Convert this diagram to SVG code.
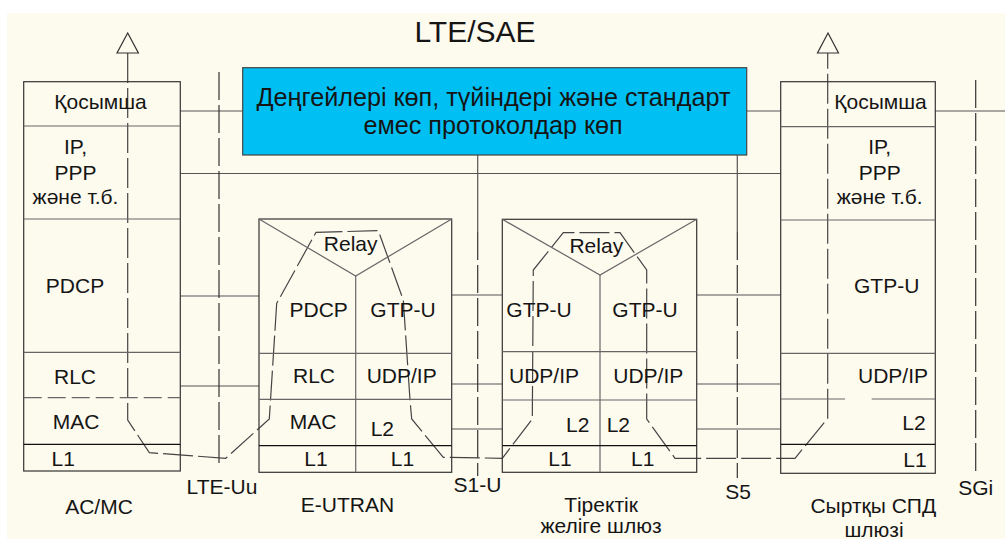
<svg xmlns="http://www.w3.org/2000/svg" width="1005" height="539" viewBox="0 0 1005 539">
<style>
text{font-family:"Liberation Sans",Arial,sans-serif;font-size:21px;fill:#151515}
.c{text-anchor:middle}
.box{fill:none;stroke:#333;stroke-width:1.2}
.row{stroke:#666;stroke-width:1.2;fill:none}
.blk{stroke:#111;stroke-width:1.2;fill:none}
.ln{stroke:#555;stroke-width:1.2;fill:none}
.iface{stroke:#333;stroke-width:1.2;stroke-dasharray:28 5;fill:none}
.path{stroke:#444;stroke-width:1.2;stroke-dasharray:30 5;fill:none}
.arr{fill:#FDFAEE;stroke:#333;stroke-width:1.2}
</style>
<rect x="0" y="0" width="1005" height="539" fill="#fff"/>
<rect x="7" y="13" width="998" height="526" fill="#FDFAEE"/>
<text class="c" x="475" y="42" style="font-size:30px">LTE/SAE</text>

<g id="connectors">
<line class="ln" x1="180" y1="111" x2="243" y2="111"/>
<line class="ln" x1="747" y1="111" x2="781" y2="111"/>
<line class="ln" x1="935" y1="111" x2="1005" y2="111"/>
<line class="ln" x1="180" y1="173.5" x2="781" y2="173.5"/>
<line class="ln" x1="180" y1="296" x2="259" y2="296"/>
<line class="ln" x1="180" y1="386" x2="259" y2="386"/>
<line class="ln" x1="452" y1="295" x2="502" y2="295"/>
<line class="ln" x1="452" y1="384" x2="502" y2="384"/>
<line class="ln" x1="452" y1="429" x2="502" y2="429"/>
<line class="ln" x1="697" y1="295" x2="781" y2="295"/>
<line class="ln" x1="697" y1="384" x2="781" y2="384"/>
<line class="ln" x1="697" y1="429" x2="781" y2="429"/>
<line class="ln" x1="477.7" y1="155" x2="477.7" y2="232"/>
<line class="ln" x1="737.3" y1="155" x2="737.3" y2="232"/>
<line class="iface" x1="219" y1="72" x2="219" y2="467"/>
<line class="iface" x1="477.7" y1="232" x2="477.7" y2="476"/>
<line class="iface" x1="737.3" y1="232" x2="737.3" y2="478"/>
<line class="iface" x1="975.7" y1="80" x2="975.7" y2="472"/>
<polyline class="path" points="127.7,53 127.7,420 149.3,452.7 225.7,458.3 269.3,419 276.7,303.3 316,232.3 378.3,230.7 403.3,300 410,400 411.7,419 443.3,457.3 502.3,458.3 532.3,419 533.3,270 563.3,232.7 620,232.7 646.7,270 646.7,419 675,458.3 795,458.3 827.7,418.3 827.7,53"/>
<polygon class="arr" points="127.7,33 117,53 138.4,53"/>
<polygon class="arr" points="828,33 817.5,53 838.5,53"/>
</g>

<g id="blue">
<rect x="242.7" y="67.7" width="504" height="87.3" fill="#00BFF3" stroke="#444" stroke-width="1.2"/>
<text class="c" x="493.5" y="106" style="font-size:25.2px">Деңгейлері көп, түйіндері және стандарт</text>
<text class="c" x="493" y="133.5" style="font-size:25.2px">емес протоколдар көп</text>
</g>

<g id="ue">
<rect class="box" x="23.7" y="81.7" width="156.6" height="389.3"/>
<line class="row" x1="23.7" y1="126" x2="180.3" y2="126"/>
<line class="row" x1="23.7" y1="219" x2="180.3" y2="219"/>
<line class="row" x1="23.7" y1="352.3" x2="180.3" y2="352.3"/>
<line class="row" x1="23.7" y1="397.7" x2="180.3" y2="397.7" stroke-dasharray="18 6"/>
<line class="blk" x1="23.7" y1="444.3" x2="180.3" y2="444.3"/>
<text class="c" x="100.5" y="109">Қосымша</text>
<text class="c" x="75.5" y="154">IP,</text>
<text class="c" x="75.5" y="180">PPP</text>
<text class="c" x="75.5" y="204">және т.б.</text>
<text class="c" x="75" y="293.3">PDCP</text>
<text class="c" x="75" y="384">RLC</text>
<text class="c" x="76" y="429">MAC</text>
<text x="51.5" y="466">L1</text>
<text class="c" x="99" y="514">AC/MC</text>
<text class="c" x="222" y="494">LTE-Uu</text>
</g>

<g id="enb">
<rect class="box" x="259" y="219" width="192.7" height="253.3"/>
<polyline class="row" points="259,219 355.7,276 451.7,219"/>
<line class="row" x1="355.7" y1="276" x2="355.7" y2="472.3"/>
<line class="row" x1="259" y1="353.3" x2="451.7" y2="353.3"/>
<line class="row" x1="259" y1="399.3" x2="451.7" y2="399.3"/>
<line class="blk" x1="259" y1="445.7" x2="451.7" y2="445.7"/>
<text class="c" x="350.7" y="250.7">Relay</text>
<text class="c" x="318.7" y="317.3">PDCP</text>
<text class="c" x="403" y="317.3">GTP-U</text>
<text class="c" x="314" y="383.3">RLC</text>
<text class="c" x="401.7" y="383.3">UDP/IP</text>
<text class="c" x="313" y="429">MAC</text>
<text x="370.7" y="435.7">L2</text>
<text class="c" x="316" y="465.7">L1</text>
<text class="c" x="402.5" y="465.7">L1</text>
<text class="c" x="477.5" y="492.3">S1-U</text>
<text class="c" x="347.5" y="511.7">E-UTRAN</text>
</g>

<g id="sgw">
<rect class="box" x="502.3" y="219.3" width="194.4" height="253"/>
<polyline class="row" points="502.3,219.3 600,275 696.7,219.3"/>
<line class="row" x1="600" y1="275" x2="600" y2="472.3"/>
<line class="row" x1="502.3" y1="351.7" x2="696.7" y2="351.7"/>
<line class="row" x1="502.3" y1="400" x2="696.7" y2="400"/>
<line class="blk" x1="502.3" y1="445.7" x2="696.7" y2="445.7"/>
<text class="c" x="596.3" y="253.3">Relay</text>
<text class="c" x="539" y="317.3">GTP-U</text>
<text class="c" x="645" y="317.3">GTP-U</text>
<text x="509" y="382.7">UDP/IP</text>
<text class="c" x="648.3" y="382.7">UDP/IP</text>
<text x="566" y="432.3">L2</text>
<text x="606.7" y="432.3">L2</text>
<text class="c" x="560" y="465.7">L1</text>
<text class="c" x="642.7" y="465.7">L1</text>
<text class="c" x="738" y="499">S5</text>
<text class="c" x="601" y="511.7">Тіректік</text>
<text class="c" x="601" y="533.3">желіге шлюз</text>
</g>

<g id="pgw">
<rect class="box" x="780.7" y="81.7" width="154.6" height="391.6"/>
<line class="row" x1="780.7" y1="126.7" x2="935.3" y2="126.7"/>
<line class="row" x1="780.7" y1="220" x2="935.3" y2="220"/>
<line class="row" x1="780.7" y1="353.3" x2="935.3" y2="353.3"/>
<line class="row" x1="780.7" y1="399" x2="845" y2="399"/>
<line class="row" x1="871.7" y1="399" x2="935.3" y2="399"/>
<line class="blk" x1="780.7" y1="444.3" x2="935.3" y2="444.3"/>
<text class="c" x="880.5" y="109">Қосымша</text>
<text class="c" x="879.7" y="154">IP,</text>
<text class="c" x="879.7" y="180">PPP</text>
<text class="c" x="879.7" y="204">және т.б.</text>
<text class="c" x="886.7" y="293.3">GTP-U</text>
<text class="c" x="893" y="383.3">UDP/IP</text>
<text x="902.3" y="430">L2</text>
<text x="903.3" y="466.7">L1</text>
<text class="c" x="975.8" y="495">SGi</text>
<text class="c" x="873.3" y="513">Сыртқы СПД</text>
<text class="c" x="874" y="536.5">шлюзі</text>
</g>
</svg>
